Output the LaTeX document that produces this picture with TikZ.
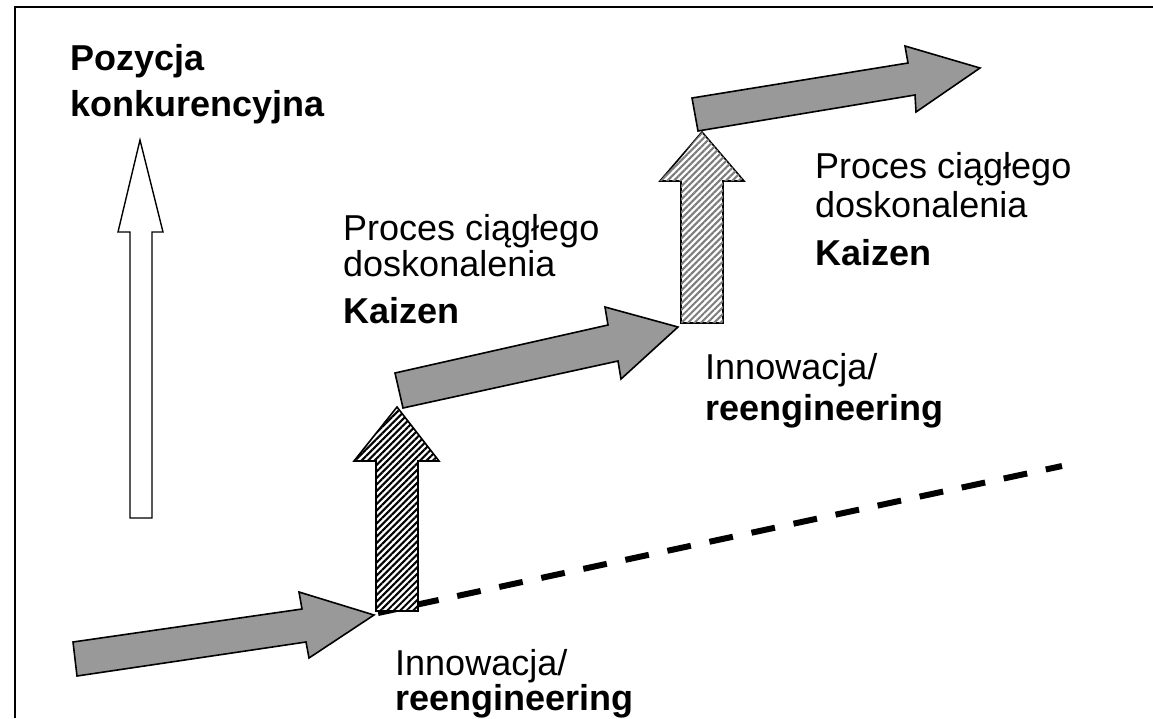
\documentclass[tikz,border=0pt]{standalone}
\usepackage{fontspec}
\setmainfont{Liberation Sans}
\usetikzlibrary{patterns.meta}
\definecolor{blockgray}{RGB}{153,153,153}
\definecolor{hatchgray}{RGB}{125,125,125}
\begin{document}
\begin{tikzpicture}[x=1pt,y=-1pt,
  frameline/.style={line width=2.5pt},
  blockarrow/.style={draw=black, line width=1.6pt, fill=blockgray, line join=miter},
  darkhatch/.style={draw=black, line width=1.6pt, fill=white,
    postaction={pattern={Lines[angle=45,distance=4.6pt,line width=2.1pt]}, pattern color=black}},
  lighthatch/.style={draw=black, line width=1.6pt, fill=white,
    postaction={pattern={Lines[angle=45,distance=4.6pt,line width=2.1pt]}, pattern color=hatchgray}},
  hollowarrow/.style={draw=black, line width=1.4pt, fill=white},
  trend/.style={line width=6pt, dash pattern=on 24pt off 19pt, dash phase=5pt},
  lbl/.style={anchor=base west, inner sep=0pt, text depth=0pt, font=\fontsize{36}{43}\selectfont},
  blbl/.style={lbl, font=\fontsize{36}{43}\selectfont\bfseries}]
\useasboundingbox (0,0) rectangle (1153,718);

% frame (top and left edges)
\draw[frameline] (15,718) -- (15,7) -- (1153,7);

% competitive position axis
\draw[hollowarrow] (130,518) -- (130,232) -- (118,232) -- (140,140) -- (163,232)
  -- (152,232) -- (152,518) -- cycle;

% trend line
\draw[trend] (378,613) -- (1062,466);

% first kaizen step
\draw[blockarrow] (73,642) -- (302,609) -- (299,592) -- (374,615) -- (309,658)
  -- (306,642) -- (77,676) -- cycle;

% first innovation jump
\draw[darkhatch] (376,611) -- (376,461) -- (354,461) -- (397,407) -- (439,461)
  -- (418,461) -- (418,611) -- cycle;

% second kaizen step
\draw[blockarrow] (395,373) -- (608,325) -- (605,307) -- (678,327) -- (621,379)
  -- (618,361) -- (403,408) -- cycle;

% second innovation jump
\draw[lighthatch] (681,323) -- (681,181) -- (660,181) -- (702,132) -- (744,181)
  -- (723,181) -- (723,323) -- cycle;

% third kaizen step
\draw[blockarrow] (692,98) -- (908,63) -- (905,46) -- (980,68) -- (916,112)
  -- (915,95) -- (698,131) -- cycle;

% labels
\node[blbl] (pz1) at (70,70) {Pozycja};
\node[blbl] (pz2) at (70,116) {konkurencyjna};

\node[lbl] (ka1) at (343,240) {Proces ciągłego};
\node[lbl] (ka2) at (343,276) {doskonalenia};
\node[blbl] (ka3) at (343,323) {Kaizen};

\node[lbl] (kb1) at (815,178) {Proces ciągłego};
\node[lbl] (kb2) at (815,217) {doskonalenia};
\node[blbl] (kb3) at (815,265) {Kaizen};

\node[lbl] (ia1) at (395,675) {Innowacja/};
\node[blbl] (ia2) at (395,710) {reengineering};

\node[lbl] (ib1) at (705,379) {Innowacja/};
\node[blbl] (ib2) at (705,420) {reengineering};
\end{tikzpicture}
\end{document}
